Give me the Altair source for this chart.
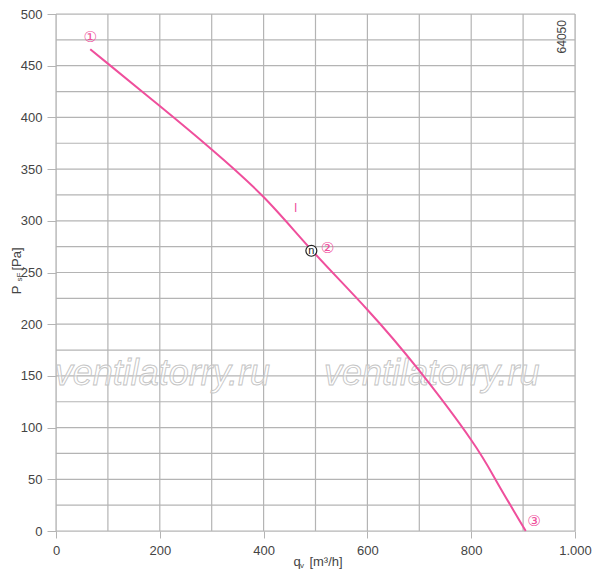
import altair as alt
import pandas as pd

# Curve values
q_vals = [66, 100, 200, 300, 400, 492, 600, 700, 800, 850, 905]
p_vals = [466, 452, 411, 369, 323, 272, 214, 155, 88, 47, 0]

x_ticks = [0, 200, 400, 600, 800, 1000]
y_ticks = [0, 50, 100, 150, 200, 250, 300, 350, 400, 450, 500]
x_grid = [0, 100, 200, 300, 400, 500, 600, 700, 800, 900, 1000]
y_grid = [0, 25, 50, 75, 100, 125, 150, 175, 200, 225, 250, 275, 300, 325, 350,
          375, 400, 425, 450, 475, 500]

marker_labels = ["①", "②", "③"]
marker_x = [66, 523, 921]
marker_y = [478, 274, 10]

wm_text = ["ventilatorry.ru", "ventilatorry.ru"]
wm_x = [205, 724]
wm_y = [152, 152]

PINK = "#ef4f9c"
GRID = "#b4b4b4"
FONT = "Liberation Sans"
W, H = 519, 517
TOP = 6
LEFT = 48

xs = alt.Scale(domain=[0, 1000], nice=False, zero=False)
ys = alt.Scale(domain=[0, 500], nice=False, zero=False)

curve_df = pd.DataFrame({"q": q_vals, "p": p_vals})
xg_df = pd.DataFrame({"q": x_grid})
yg_df = pd.DataFrame({"p": y_grid})
mk_df = pd.DataFrame({"t": marker_labels, "q": marker_x, "p": marker_y})
wm_df = pd.DataFrame({"t": wm_text, "q": wm_x, "p": wm_y})

vgrid = alt.Chart(xg_df).mark_rule(color=GRID, strokeWidth=1.2).encode(
    x=alt.X("q:Q", scale=xs,
            axis=alt.Axis(values=x_ticks, title=None, grid=False,
                          labelExpr="datum.value == 1000 ? '1.000' : datum.label",
                          labelFont=FONT, labelFontSize=13, labelColor="#444",
                          tickColor=GRID, tickSize=7, domain=False, labelPadding=6,
                          labelFlush=False)),
    y=alt.value(0), y2=alt.value(H),
)

hgrid = alt.Chart(yg_df).mark_rule(color=GRID, strokeWidth=1.2).encode(
    y=alt.Y("p:Q", scale=ys,
            axis=alt.Axis(values=y_ticks, title=None, grid=False,
                          labelFont=FONT, labelFontSize=13, labelColor="#444",
                          tickColor=GRID, tickSize=9, domain=False, labelPadding=5)),
    x=alt.value(0), x2=alt.value(W),
)

watermark = alt.Chart(wm_df).mark_text(
    font=FONT, fontSize=36, fontStyle="italic", fill="white", fillOpacity=0.4,
    stroke="#c4c4c4", strokeWidth=0.9,
).encode(x=alt.X("q:Q", scale=xs), y=alt.Y("p:Q", scale=ys), text="t:N")

curve = alt.Chart(curve_df).mark_line(color=PINK, strokeWidth=2, interpolate="natural").encode(
    x=alt.X("q:Q", scale=xs), y=alt.Y("p:Q", scale=ys)
)

markers = alt.Chart(mk_df).mark_text(font="DejaVu Sans", fontSize=15, color=PINK).encode(
    x=alt.X("q:Q", scale=xs), y=alt.Y("p:Q", scale=ys), text="t:N"
)

op_df = pd.DataFrame({"q": [492], "p": [271], "t": ["n"]})
op_circle = alt.Chart(op_df).mark_point(shape="circle", size=120, color="#222",
                                        filled=True, fill="white", stroke="#222",
                                        strokeWidth=1.2, opacity=1).encode(
    x=alt.X("q:Q", scale=xs), y=alt.Y("p:Q", scale=ys)
)
op_text = alt.Chart(op_df).mark_text(font=FONT, fontSize=11, color="#222").encode(
    x=alt.X("q:Q", scale=xs), y=alt.Y("p:Q", scale=ys), text="t:N"
)

lab_df = pd.DataFrame({"q": [462], "p": [312], "t": ["I"]})
lab_I = alt.Chart(lab_df).mark_text(font=FONT, fontSize=12, color=PINK).encode(
    x=alt.X("q:Q", scale=xs), y=alt.Y("p:Q", scale=ys), text="t:N"
)

code_df = pd.DataFrame({"q": [975], "p": [478], "t": ["64050"]})
code = alt.Chart(code_df).mark_text(font=FONT, fontSize=12, color="#444", angle=270).encode(
    x=alt.X("q:Q", scale=xs), y=alt.Y("p:Q", scale=ys), text="t:N"
)

# axis titles with subscripts (page pixel positions, converted to plot-area offsets)
OX, OY = 8 + LEFT, 8 + TOP


def ptext(t, px, py, size=12, angle=0):
    return alt.Chart(pd.DataFrame({"t": [t]})).mark_text(
        font=FONT, fontSize=size, color="#444", angle=angle
    ).encode(x=alt.value(px - OX), y=alt.value(py - OY), text="t:N")


titles = [
    ptext("q", 297, 562, 13),
    ptext("v", 302, 566, 8),
    ptext("[m³/h]", 326, 562, 13),
    ptext("P", 17, 290, 13, 270),
    ptext("sF", 20, 277, 8, 270),
    ptext("[Pa]", 17, 259, 13, 270),
]

chart = alt.layer(vgrid, hgrid, watermark, curve, markers, lab_I, op_circle, op_text,
                  code, *titles).properties(
    width=W, height=H,
    autosize=alt.AutoSizeParams(type="none"),
    padding={"left": LEFT, "top": TOP, "right": 17, "bottom": 42},
).configure_view(stroke=None).configure(background="white")

chart.save("out.html", embed_options={"renderer": "svg", "actions": False})
